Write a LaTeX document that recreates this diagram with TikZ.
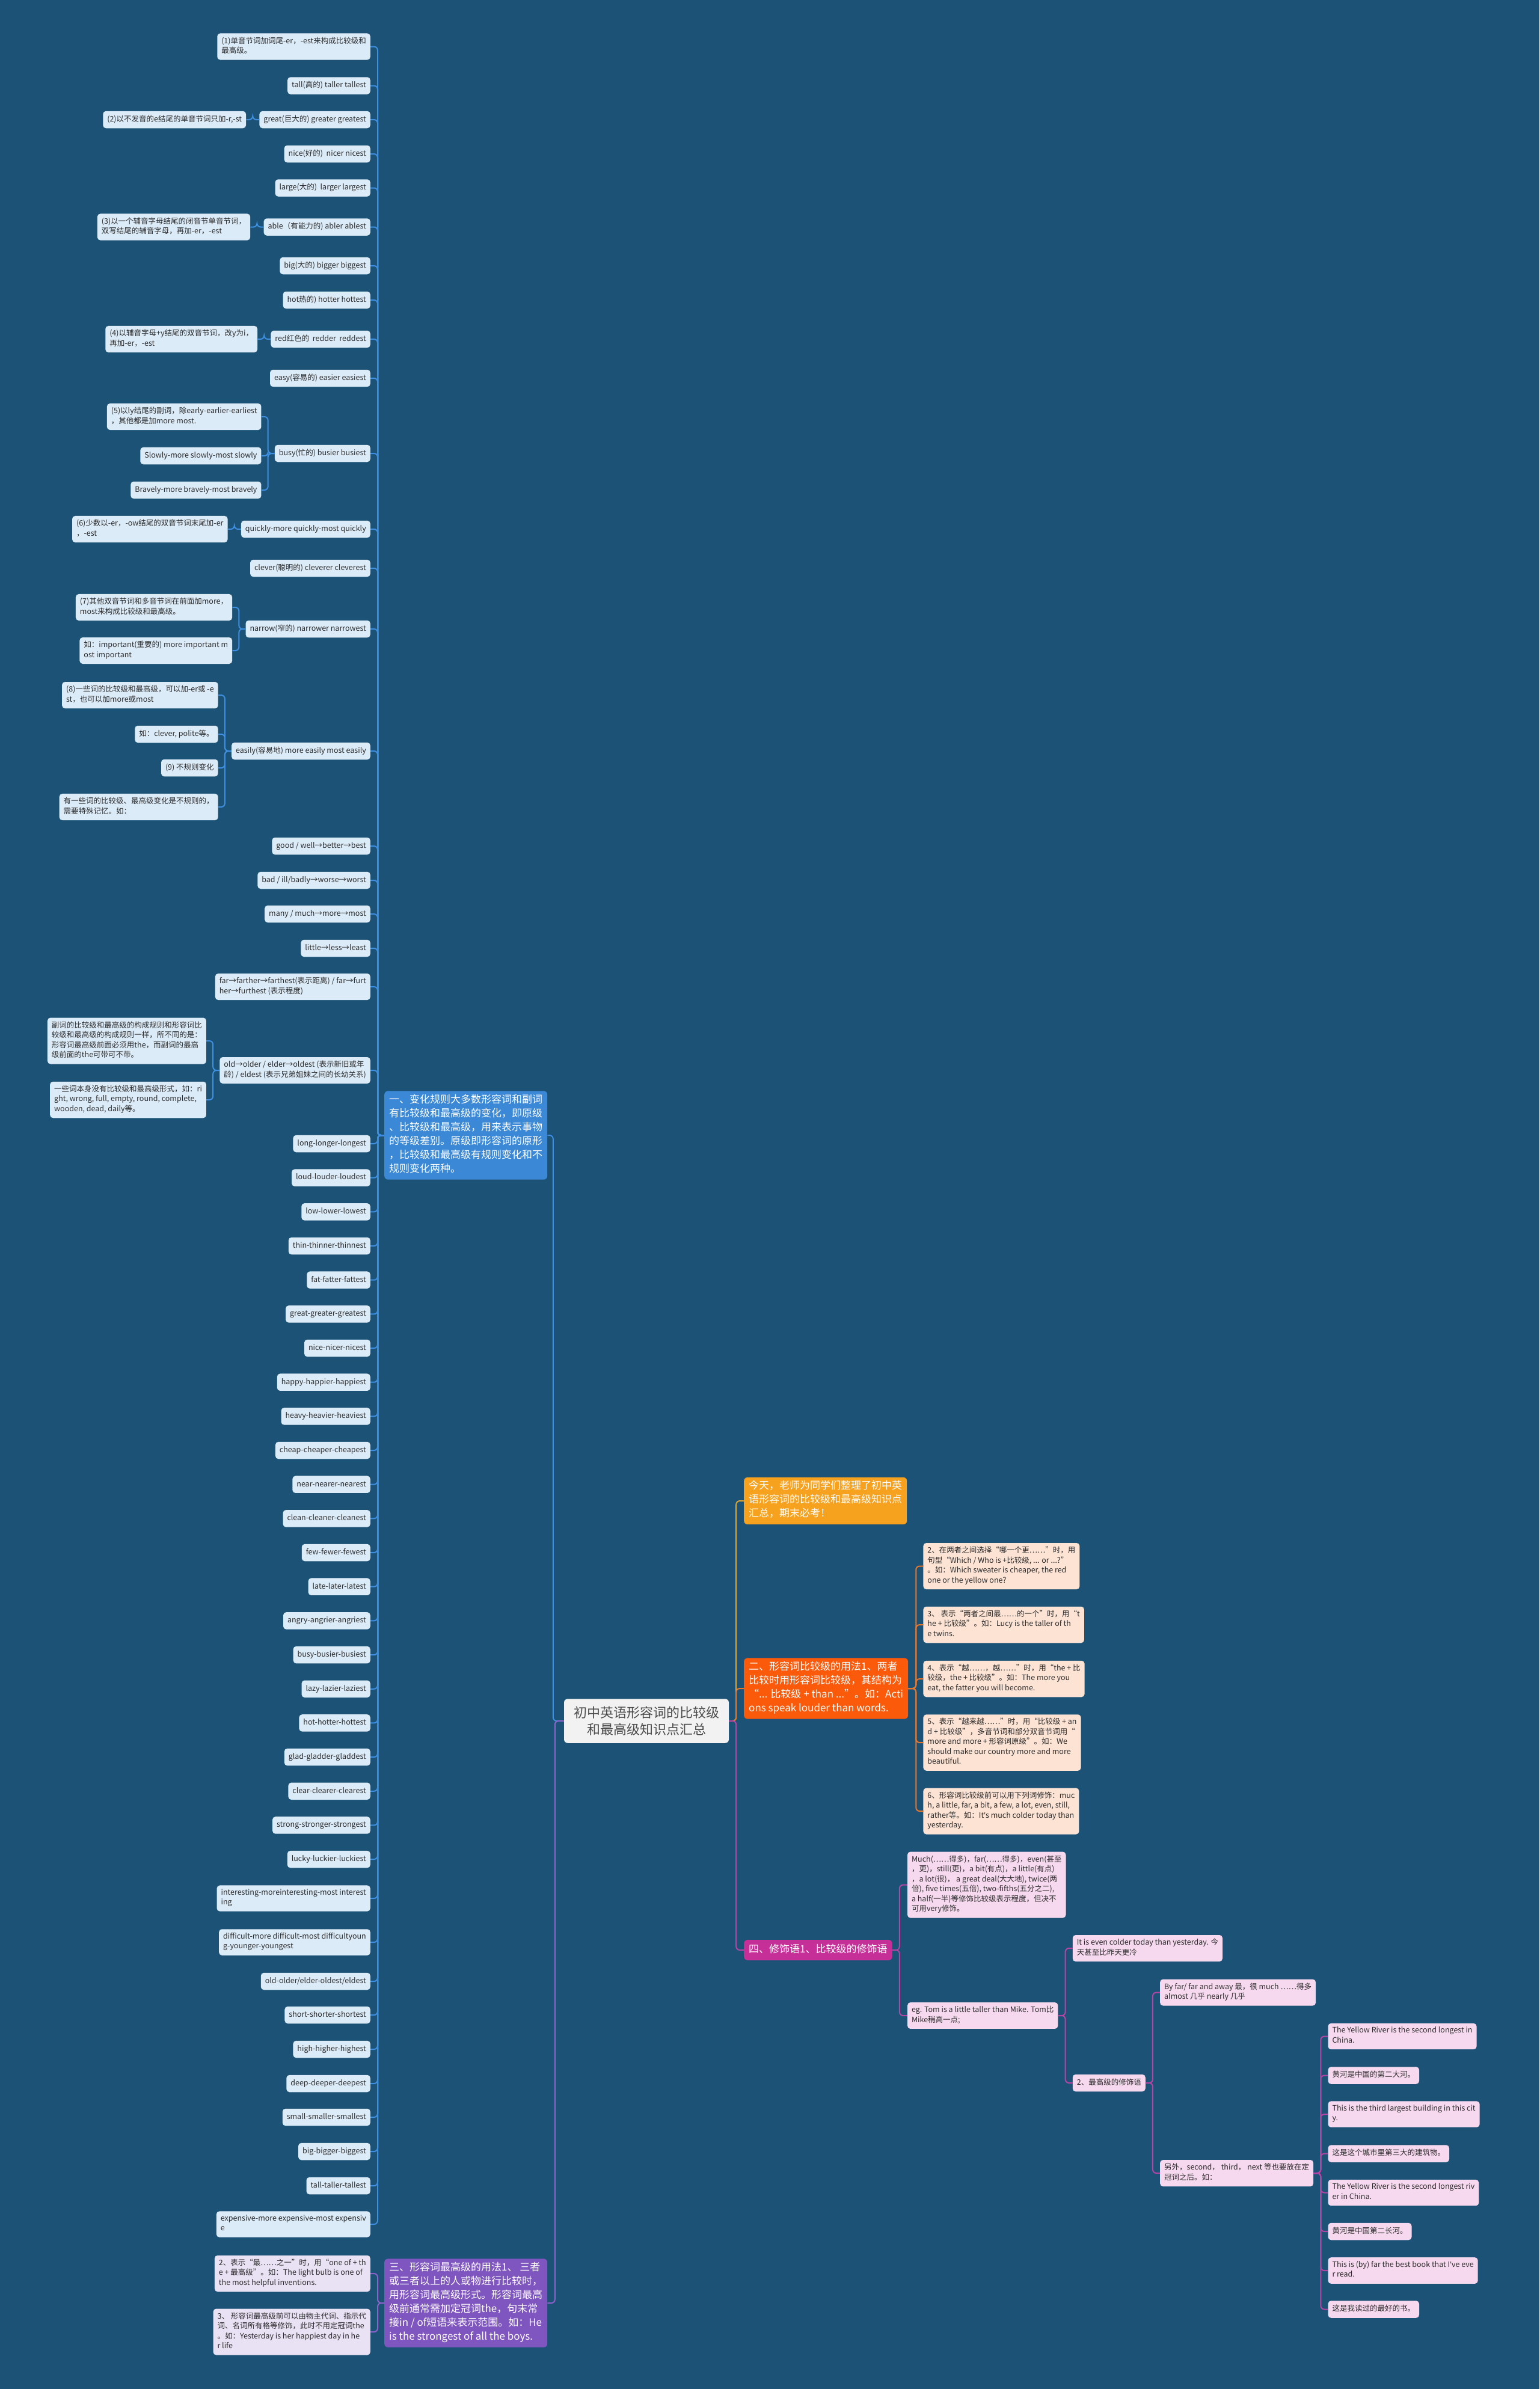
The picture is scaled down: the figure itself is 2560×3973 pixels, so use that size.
\documentclass[tikz,border=0pt]{standalone}
\usepackage{fontspec}
\setmainfont{Noto Sans CJK SC}
\newfontfamily\latinfont{Noto Sans}
\usetikzlibrary{positioning}
\definecolor{bg}{HTML}{1B5276}
\definecolor{ink}{HTML}{2B2B2B}
\definecolor{rootfill}{HTML}{F2F2F2}
\definecolor{blue1}{HTML}{3A88D6}
\definecolor{bluelf}{HTML}{DCEBF8}
\definecolor{blueln}{HTML}{3E8FE0}
\definecolor{gold}{HTML}{F6A21E}
\definecolor{goldln}{HTML}{E0A530}
\definecolor{orange2}{HTML}{FA5A0A}
\definecolor{orangelf}{HTML}{FCE3D4}
\definecolor{orangeln}{HTML}{E8782E}
\definecolor{purple3}{HTML}{7F55BF}
\definecolor{purplelf}{HTML}{E9E1F4}
\definecolor{purpleln}{HTML}{8E62CC}
\definecolor{magenta4}{HTML}{C62F97}
\definecolor{magentalf}{HTML}{F6D9EE}
\definecolor{magentaln}{HTML}{B445A6}

\begin{document}
\begin{tikzpicture}[x=1pt, y=-1pt,
  leaf/.style={rounded corners=5pt, inner xsep=7pt, inner ysep=6pt, align=left, text=ink,
    font=\fontsize{12.5}{16.5}\selectfont, execute at begin node=\strut, execute at end node=\strut},
  bleaf/.style={leaf, fill=bluelf},
  oleaf/.style={leaf, fill=orangelf},
  pleaf/.style={leaf, fill=purplelf},
  mleaf/.style={leaf, fill=magentalf},
  branch/.style={rounded corners=6pt, inner xsep=8pt, inner ysep=5.5pt, align=left, text=white,
    font=\fontsize{17}{23}\selectfont, execute at begin node=\strut, execute at end node=\strut},
  link/.style={line width=2pt, rounded corners=6pt},
  bline/.style={link, draw=blueln},
  gline/.style={link, draw=goldln},
  oline/.style={link, draw=orangeln},
  pline/.style={link, draw=purpleln},
  mline/.style={link, draw=magentaln}]

  \useasboundingbox (0,0) rectangle (2560,3973);
  \fill[bg] (0,0) rectangle (2560,3973);

  % root and main branches
  \node[rounded corners=6pt, fill=rootfill, text=ink!85, align=center, inner xsep=16pt, inner ysep=12.5pt,
    font=\fontsize{22}{28}\selectfont] (root) at (1075,2862) {初中英语形容词的比较级\\和最高级知识点汇总};
  \node[branch, fill=blue1, anchor=west] (b1) at (639,1888) {一、变化规则大多数形容词和副词\\有比较级和最高级的变化，即原级\\、比较级和最高级，用来表示事物\\的等级差别。原级即形容词的原形\\，比较级和最高级有规则变化和不\\规则变化两种。};
  \node[branch, fill=purple3, anchor=west] (b3) at (639,3830) {三、形容词最高级的用法1、 三者\\或三者以上的人或物进行比较时，\\用形容词最高级形式。形容词最高\\级前通常需加定冠词the，句末常\\接in / of短语来表示范围。如：He\\is the strongest of all the boys.};
  \node[branch, fill=gold, anchor=west] (b0) at (1237,2496) {今天，老师为同学们整理了初中英\\语形容词的比较级和最高级知识点\\汇总，期末必考！};
  \node[branch, fill=orange2, anchor=west] (b2) at (1237,2808) {二、形容词比较级的用法1、两者\\比较时用形容词比较级，其结构为\\“... 比较级 + than ...”。如：Acti\\ons speak louder than words.};
  \node[branch, fill=magenta4, anchor=west] (b4) at (1237,3243) {四、修饰语1、比较级的修饰语};

  % branch one
  \node[bleaf, anchor=east] (c1) at (616,77.5) {(1)单音节词加词尾-er，-est来构成比较级和\\最高级。};
  \node[bleaf, anchor=east] (c2) at (616,142.5) {tall(高的) taller tallest};
  \node[bleaf, anchor=east] (c3) at (616,199) {great(巨大的) greater greatest};
  \node[bleaf, anchor=east] (c4) at (616,256) {nice(好的) \ nicer nicest};
  \node[bleaf, anchor=east] (c5) at (616,312.5) {large(大的) \ larger largest};
  \node[bleaf, anchor=east] (c6) at (616,377.5) {able（有能力的) abler ablest};
  \node[bleaf, anchor=east] (c7) at (616,442) {big(大的) bigger biggest};
  \node[bleaf, anchor=east] (c8) at (616,499) {hot热的) hotter hottest};
  \node[bleaf, anchor=east] (c9) at (616,564) {red红色的 \ redder \ reddest};
  \node[bleaf, anchor=east] (c10) at (616,629) {easy(容易的) easier easiest};
  \node[bleaf, anchor=east] (c11) at (616,754) {busy(忙的) busier busiest};
  \node[bleaf, anchor=east] (c12) at (616,880) {quickly-more quickly-most quickly};
  \node[bleaf, anchor=east] (c13) at (616,945) {clever(聪明的) cleverer cleverest};
  \node[bleaf, anchor=east] (c14) at (616,1046) {narrow(窄的) narrower narrowest};
  \node[bleaf, anchor=east] (c15) at (616,1249) {easily(容易地) more easily most easily};
  \node[bleaf, anchor=east] (c16) at (616,1407) {good / well→better→best};
  \node[bleaf, anchor=east] (c17) at (616,1464) {bad / ill/badly→worse→worst};
  \node[bleaf, anchor=east] (c18) at (616,1520) {many / much→more→most};
  \node[bleaf, anchor=east] (c19) at (616,1577) {little→less→least};
  \node[bleaf, anchor=east] (c20) at (616,1641) {far→farther→farthest(表示距离) / far→furt\\her→furthest (表示程度)};
  \node[bleaf, anchor=east] (c21) at (616,1780) {old→older / elder→oldest (表示新旧或年\\龄) / eldest (表示兄弟姐妹之间的长幼关系)};
  \foreach \t [count=\i from 22] in {long-longer-longest, loud-louder-loudest, low-lower-lowest,
      thin-thinner-thinnest, fat-fatter-fattest, great-greater-greatest, nice-nicer-nicest,
      happy-happier-happiest, heavy-heavier-heaviest, cheap-cheaper-cheapest, near-nearer-nearest,
      clean-cleaner-cleanest, few-fewer-fewest, late-later-latest, angry-angrier-angriest,
      busy-busier-busiest, lazy-lazier-laziest, hot-hotter-hottest, glad-gladder-gladdest,
      clear-clearer-clearest, strong-stronger-strongest, lucky-luckier-luckiest}
    \node[bleaf, anchor=east] (c\i) at (616,{1902+(\i-22)*56.67}) {\t};
  \node[bleaf, anchor=east] (c44) at (616,3157) {interesting-moreinteresting-most interest\\ing};
  \node[bleaf, anchor=east] (c45) at (616,3230) {difficult-more difficult-most difficultyoun\\g-younger-youngest};
  \node[bleaf, anchor=east] (c46) at (616,3295) {old-older/elder-oldest/eldest};
  \node[bleaf, anchor=east] (c47) at (616,3351) {short-shorter-shortest};
  \node[bleaf, anchor=east] (c48) at (616,3408) {high-higher-highest};
  \node[bleaf, anchor=east] (c49) at (616,3465) {deep-deeper-deepest};
  \node[bleaf, anchor=east] (c50) at (616,3521) {small-smaller-smallest};
  \node[bleaf, anchor=east] (c51) at (616,3578) {big-bigger-biggest};
  \node[bleaf, anchor=east] (c52) at (616,3635) {tall-taller-tallest};
  \node[bleaf, anchor=east] (c53) at (616,3699) {expensive-more expensive-most expensiv\\e};

  \node[bleaf, left=22pt of c3] (c3a) {(2)以不发音的e结尾的单音节词只加-r,-st};
  \node[bleaf, left=22pt of c6] (c6a) {(3)以一个辅音字母结尾的闭音节单音节词，\\双写结尾的辅音字母，再加-er，-est};
  \node[bleaf, left=22pt of c9] (c9a) {(4)以辅音字母+y结尾的双音节词，改y为i，\\再加-er，-est};
  \node[bleaf, left=22pt of c11, yshift=61pt] (c11a) {(5)以ly结尾的副词，除early-earlier-earliest\\，其他都是加more most.};
  \node[bleaf, left=22pt of c11, yshift=-4pt] (c11b) {Slowly-more slowly-most slowly};
  \node[bleaf, left=22pt of c11, yshift=-61pt] (c11c) {Bravely-more bravely-most bravely};
  \node[bleaf, left=22pt of c12] (c12a) {(6)少数以-er，-ow结尾的双音节词末尾加-er\\，-est};
  \node[bleaf, left=22pt of c14, yshift=36pt] (c14a) {(7)其他双音节词和多音节词在前面加more，\\most来构成比较级和最高级。};
  \node[bleaf, left=22pt of c14, yshift=-36pt] (c14b) {如：important(重要的) more important m\\ost important};
  \node[bleaf, left=22pt of c15, yshift=93pt] (c15a) {(8)一些词的比较级和最高级，可以加-er或 -e\\st，也可以加more或most};
  \node[bleaf, left=22pt of c15, yshift=28pt] (c15b) {如：clever, polite等。};
  \node[bleaf, left=22pt of c15, yshift=-28pt] (c15c) {(9) 不规则变化};
  \node[bleaf, left=22pt of c15, yshift=-93pt] (c15d) {有一些词的比较级、最高级变化是不规则的，\\需要特殊记忆。如：};
  \node[bleaf, left=22pt of c21, yshift=49pt] (c21a) {副词的比较级和最高级的构成规则和形容词比\\较级和最高级的构成规则一样，所不同的是：\\形容词最高级前面必须用the，而副词的最高\\级前面的the可带可不带。};
  \node[bleaf, left=22pt of c21, yshift=-49pt] (c21b) {一些词本身没有比较级和最高级形式，如：ri\\ght, wrong, full, empty, round, complete,\\wooden, dead, daily等。};

  % branch three
  \node[pleaf, anchor=east] (t1) at (616,3781) {2、表示“最……之一”时，用“one of + th\\e + 最高级”。如：The light bulb is one of\\the most helpful inventions.};
  \node[pleaf, anchor=east] (t2) at (616,3878) {3、 形容词最高级前可以由物主代词、指示代\\词、名词所有格等修饰，此时不用定冠词the\\。如：Yesterday is her happiest day in he\\r life};

  % branch two
  \node[oleaf, right=25pt of b2, yshift=203.5pt] (d1) {2、在两者之间选择“哪一个更……”时，用\\句型“Which / Who is +比较级, ... or ...?”\\。如：Which sweater is cheaper, the red\\one or the yellow one?};
  \node[oleaf, right=25pt of b2, yshift=106pt] (d2) {3、 表示“两者之间最……的一个”时，用“t\\he + 比较级”。如：Lucy is the taller of th\\e twins.};
  \node[oleaf, right=25pt of b2, yshift=16pt] (d3) {4、表示“越……，越……”时，用“the + 比\\较级，the + 比较级”。如：The more you\\eat, the fatter you will become.};
  \node[oleaf, right=25pt of b2, yshift=-90pt] (d4) {5、表示“越来越……”时，用“比较级 + an\\d + 比较级”，多音节词和部分双音节词用“\\more and more + 形容词原级”。如：We\\should make our country more and more\\beautiful.};
  \node[oleaf, right=25pt of b2, yshift=-204pt] (d5) {6、形容词比较级前可以用下列词修饰：muc\\h, a little, far, a bit, a few, a lot, even, still,\\rather等。如：It{\latinfont'}s much colder today than\\yesterday.};

  % branch four
  \node[mleaf, right=25pt of b4, yshift=108.5pt] (m1) {Much(……得多)，far(……得多)，even(甚至\\，更)，still(更)，a bit(有点)，a little(有点)\\，a lot(很)， a great deal(大大地), twice(两\\倍), five times(五倍), two-fifths(五分之二),\\a half(一半)等修饰比较级表示程度，但决不\\可用very修饰。};
  \node[mleaf, right=25pt of b4, yshift=-109pt] (m2) {eg. Tom is a little taller than Mike. Tom比\\Mike稍高一点;};
  \node[mleaf, right=24pt of m2, yshift=112pt] (m2a) {It is even colder today than yesterday. 今\\天甚至比昨天更冷};
  \node[mleaf, right=24pt of m2, yshift=-112pt] (m2b) {2、最高级的修饰语};
  \node[mleaf, right=24pt of m2b, yshift=150.5pt] (n1) {By far/ far and away 最，很 much ……得多\\almost 几乎 nearly 几乎};
  \node[mleaf, right=24pt of m2b, yshift=-150pt] (n2) {另外，second， third， next 等也要放在定\\冠词之后。如：};
  \node[mleaf, right=24pt of n2, yshift=227.5pt] (p1) {The Yellow River is the second longest in\\China.};
  \node[mleaf, right=24pt of n2, yshift=162.5pt] (p2) {黄河是中国的第二大河。};
  \node[mleaf, right=24pt of n2, yshift=98pt] (p3) {This is the third largest building in this cit\\y.};
  \node[mleaf, right=24pt of n2, yshift=32.5pt] (p4) {这是这个城市里第三大的建筑物。};
  \node[mleaf, right=24pt of n2, yshift=-32.5pt] (p5) {The Yellow River is the second longest riv\\er in China.};
  \node[mleaf, right=24pt of n2, yshift=-97pt] (p6) {黄河是中国第二长河。};
  \node[mleaf, right=24pt of n2, yshift=-162pt] (p7) {This is (by) far the best book that I{\latinfont'}ve eve\\r read.};
  \node[mleaf, right=24pt of n2, yshift=-226.5pt] (p8) {这是我读过的最好的书。};

  % connectors
  \draw[bline] (root.west) -- ++(-18,0) |- (b1.east);
  \draw[pline] (root.west) -- ++(-15,0) |- (b3.east);
  \draw[gline] (root.east) -- ++(12,0) |- (b0.west);
  \draw[oline] (root.east) -- ++(12,0) |- (b2.west);
  \draw[mline] (root.east) -- ++(12,0) |- (b4.west);
  \foreach \i in {1,...,53}
    \draw[bline] (b1.west) -- ++(-11,0) |- (c\i.east);
  \foreach \p/\c in {c3/c3a, c6/c6a, c9/c9a, c11/c11a, c11/c11b, c11/c11c, c12/c12a,
      c14/c14a, c14/c14b, c15/c15a, c15/c15b, c15/c15c, c15/c15d, c21/c21a, c21/c21b}
    \draw[bline] (\p.west) -- ++(-11,0) |- (\c.east);
  \foreach \c in {t1, t2}
    \draw[pline] (b3.west) -- ++(-11,0) |- (\c.east);
  \foreach \c in {d1, d2, d3, d4, d5}
    \draw[oline] (b2.east) -- ++(13,0) |- (\c.west);
  \foreach \p/\c in {b4/m1, b4/m2, m2/m2a, m2/m2b, m2b/n1, m2b/n2, n2/p1, n2/p2, n2/p3,
      n2/p4, n2/p5, n2/p6, n2/p7, n2/p8}
    \draw[mline] (\p.east) -- ++(12,0) |- (\c.west);
\end{tikzpicture}
\end{document}
